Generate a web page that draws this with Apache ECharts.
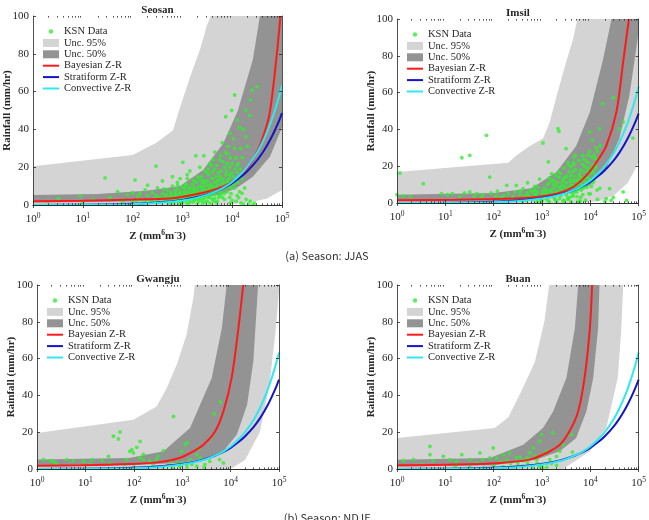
<!DOCTYPE html>
<html>
<head>
<meta charset="utf-8">
<title>Bayesian Z-R</title>
<script src="https://cdn.jsdelivr.net/npm/echarts@6.0.0/dist/echarts.min.js"></script>
<style>
    html, body { margin: 0; padding: 0; background: #fff; }
    #main { width: 649px; height: 520px; }
</style>
</head>
<body>
<div id="main"></div>
<script>
// ---- data ----
var stations = ['Seosan', 'Imsil', 'Gwangju', 'Buan'];
var captions = ['(a) Season: JJAS', '(b) Season: NDJF'];
var xTicks = [1, 10, 100, 1000, 10000, 100000];
var yTicks = [0, 20, 40, 60, 80, 100];

// fixed reference relations, same curve on every panel  [Z, R]
var stratZR = [[1,0.04],[10,0.15],[100,0.65],[300,1.3],[1000,2.7],[2000,4.2],[3000,5.4],[5000,7.5],[7000,9.2],[10000,11.5],
    [15000,14.9],[20000,17.8],[30000,22.9],[40000,27.4],[50000,31.5],[60000,35.3],[70000,38.9],[80000,42.3],[90000,45.5],[100000,48.6]];
var convZR = [[1,0.02],[10,0.09],[100,0.46],[300,1],[1000,2.4],[2000,3.9],[3000,5.2],[5000,7.5],[7000,9.5],[10000,12.2],
    [15000,16.4],[20000,20.1],[30000,26.8],[40000,32.9],[50000,38.6],[60000,44],[70000,49.1],[80000,54],[90000,58.7],[100000,63.3]];

// Seosan
var seosanBayes = [[1,2],[10,2.3],[100,2.9],[560,3.5],[1230,4.8],[3100,7],[7800,10.6],[15500,16],[26000,24],[39000,34],[56000,48],[76000,76],[93000,100]];
var seosanHi95 = [[1,20.5],[100,26.5],[300,33],[650,39.5],[830,49],[1400,67],[2300,83],[3100,95],[3700,100],[100000,100]];
var seosanHi50 = [[1,5.3],[20,5.8],[190,7.6],[900,10],[2600,18.5],[6600,32.5],[13000,50],[26000,77],[36000,100],[100000,100]];
var seosanLo50 = [[1,1.3],[100,1.8],[1000,3],[5700,5.3],[12300,9],[26000,15],[57500,25.6],[100000,41]];
var seosanLo95 = [[1,0],[5000,0],[20000,1],[50000,3.5],[100000,8]];
var seosanKsn = [[3.2,3.5],[8.9,4.8],[16,3],[28,14.3],[35,4],[50,7],[63,3],[79,5.5],[100,2],[112,13.2],[126,4.5],[141,6],[158,3],[178,8],
    [200,5],[224,2],[251,6.5],[282,3.5],[295,20.6],[316,9],[355,4],[398,12.7],[398,6],[447,2.5],[501,8],[562,4],[631,15],[631,10],[708,6],
    [794,2.5],[794,12],[891,7],[1000,4],[1020,22.6],[1120,9],[1260,14],[1260,5.5],[1410,18],[1410,2],[1580,11],[1580,7],[1780,4],[1860,26],
    [2000,15],[2000,9],[2240,20],[2240,5.5],[2510,12],[2510,2.5],[2690,26],[2820,8],[3160,17],[3160,10.5],[3550,22],[3550,4],[3980,14],[3980,7],
    [4470,28],[4470,19],[5010,11],[5010,2],[5620,24],[5620,15],[6310,33],[6310,9],[7080,20],[7410,46.7],[7940,27],[7940,13],[8910,38],[8910,4],
    [9770,50.1],[10000,22],[10000,2.3],[11200,58.2],[11200,30],[12600,17],[13500,3.9],[14100,41],[15800,6.2],[15800,25],[18600,50.3],[18600,36],
    [20000,31],[21400,0.5],[22400,47.3],[23400,55.6],[25100,60.8],[31600,62.6],[28200,1],
    [355,1.5],[501,3],[562,1],[708,2],[891,3.5],[1000,1.5],[1120,6],[1260,3],[1410,8.5],[1580,4.5],[1780,6.5],[2000,1],[2240,3.5],[2510,7],
    [2820,5],[3160,2],[3160,13],[3550,9],[3980,3],[4470,5.5],[4470,12],[5010,8],[5620,6],[6310,4],[7080,10],[7940,7],[8910,16],[10000,12],
    [11200,9],[12600,5],[12600,21],[15800,14],[17800,9],[2820,18],[3800,21],[5250,17],[4170,24],[6610,23],[8320,31],[10500,35],[12600,45],
    [14800,30],[16600,40],[63,1.5],[158,1],[251,1.5],[10,1.5],[2,2],[100,6.5],[200,10.5],[316,2.5],
    [650,3],[720,7.5],[760,4.5],[850,1.2],[950,5],[1100,2.5],[1150,11],[1300,7],[1350,1],[1500,5],[1650,9.5],[1700,2.5],[1900,12],[1950,6],
    [2100,3],[2300,10],[2400,15],[2600,4.5],[2700,10],[2900,1.5],[3000,6.5],[3300,8],[3400,16],[3700,5],[3700,11],[4200,8.5],[4300,2],
    [4700,15],[4800,9.5],[5300,4],[5500,13],[6000,7],[6000,18],[6700,12],[7000,3],[7500,16],[8500,10],[9000,20],[9500,6],[10500,15],
    [11800,25],[13000,12],[14500,19],[2200,13.5],[1250,16],[900,14],[800,10.5],[600,5.5],[450,4.5],[420,8.5],
    [420,2],[480,5.5],[520,1.5],[580,6.5],[610,3.5],[680,1],[740,5],[780,8.5],[820,3],[870,6],[930,1],[980,9.5],[1050,3],[1080,7],[1180,4],
    [1220,1],[1320,5],[1380,9],[1450,3.5],[1550,6],[1620,1.5],[1720,8],[1820,3],[1880,5],[2050,7],[2150,2],[2350,6],[2450,9],[2550,1],
    [2750,3.5],[2850,12],[3050,7.5],[3250,4],[3450,6],[3600,1],[3850,7],[4050,10],[4400,3.5],[4600,7],[4900,1.2],[5100,13],[5400,8.5],
    [5800,5],[6200,11],[6500,14],[6900,6],[7300,9],[7700,18],[8200,12],[8700,14],[9300,9],[9800,17],[10800,11],[11500,19],[12200,14],
    [13500,22],[3300,19],[4000,17.5],[4900,21],[5900,26],[7200,28],[8000,22],[9200,25],[1700,13],[1200,10.5],[2600,13],[15000,1],[17000,0.5],
    [12000,2],[9000,1],[19000,3],[14000,7],[23000,2],[26000,0.3],[300,5],[250,3],[180,1.5],[120,2.5]];

// Imsil
var imsilBayes = [[1,1.5],[17,1.8],[410,2.7],[2000,5.1],[4400,8.7],[8300,15],[13500,22.3],[21400,31],[34700,49.5],[48000,77],[63000,100]];
var imsilHi95 = [[1,16.8],[200,21.9],[300,26],[560,31],[1050,35],[1450,44],[2000,58],[3200,77],[4400,89],[5400,100],[100000,100]];
var imsilHi50 = [[1,4.5],[100,5.5],[600,8],[2000,16.8],[5100,31],[9800,49.5],[18000,77],[27500,100],[100000,100]];
var imsilLo50 = [[1,0.9],[100,1.3],[1000,2.5],[3700,5.1],[9800,9.6],[21400,18.7],[40000,35],[64600,58.5],[100000,93]];
var imsilLo95 = [[1,0],[5000,0],[15000,1],[30000,4],[60000,11],[100000,22]];
var imsilKsn = [[1,4.5],[1.15,16.3],[1.35,3.8],[1.9,3.3],[3.5,10.5],[8.3,5.1],[11,4.5],[14,5.1],[20,3.5],[22,24.6],[32,25.9],[32,6],[45,5.1],
    [56,3],[71,36.8],[83,14.1],[89,5.5],[112,4],[141,3],[186,9.6],[200,5],[251,3.5],[295,9.6],[316,2],[355,6.5],[407,7.8],[447,4],[501,11],
    [562,2.5],[631,6],[708,9],[794,3.5],[891,13],[1000,5],[1050,32.6],[1120,8],[1260,2],[1350,22.3],[1410,11],[1580,6],[1580,16],[1780,3],
    [2000,9],[2140,40.4],[2240,14],[2240,39],[2510,5],[2820,19],[3160,29.5],[3160,11],[3550,2.5],[3550,7],[3980,15],[4070,19.6],[4470,22],
    [4470,4],[5010,9],[5010,26],[5620,13],[6310,18],[6310,3],[7080,24],[7080,8],[7940,14],[8910,26],[9770,38.6],[10000,19],[10000,5],
    [11200,11],[12600,24],[14100,2],[15500,40.4],[15800,8],[18200,54],[21400,2.4],[25100,7.8],[30200,57.2],[39800,40.4],[47900,44],[47900,6],
    [56200,1.4],[75900,35.3],[398,1],[794,0.8],[1000,1.5],[1410,0.5],[2000,1],[2820,1.5],[3980,0.8],[5620,1],[7940,1.5],[708,4.5],[1120,3],
    [1780,12],[2510,8],[3160,4.5],[4470,12],[6310,10.5],[8910,17],[11200,21],[3550,17],[5250,6],[7590,20],[2820,13],[1260,7],[501,5.5],
    [251,2],[158,1.5],[2240,6.5],[3980,9.5],[8320,11],[12600,15],[9550,28],[13200,30],
    [900,2.5],[1150,5.5],[1300,10],[1500,3.5],[1700,8],[1900,4.5],[2100,11],[2300,2.5],[2600,10],[2700,6],[3000,14],[3300,7.5],[3400,2],
    [3800,11.5],[4200,5.5],[4300,17],[4800,14.5],[5300,3.5],[5500,10],[6000,15],[6500,7],[6800,21],[7500,12],[8500,8.5],[9000,22],[9500,13],
    [10500,9],[11500,17],[12000,26],[13000,19],[14000,24],[600,3],[700,7],[1600,12.5],[2400,16],[3600,20.5],[4600,25],[800,6],
    [450,1.5],[520,4],[580,7],[650,2],[740,4.5],[830,8.5],[950,1],[1050,6.5],[1180,3.5],[1280,5],[1380,1],[1480,7],[1620,4.5],[1750,10],
    [1850,2],[1950,6],[2150,5],[2350,8.5],[2450,4],[2650,12],[2750,1],[2950,9],[3100,5.5],[3250,14.5],[3450,3],[3700,8.5],[3900,13],
    [4100,3.5],[4400,9.5],[4700,6],[4900,18],[5200,12],[5700,7.5],[5900,16],[6200,1],[6600,13.5],[7000,4.5],[7300,17],[7800,9],[8100,23],
    [8800,14],[9300,5],[10200,16],[10800,25],[11800,12],[12800,20],[13800,7],[2200,17],[3400,22],[4600,21],[5800,23],[6900,26],[8600,19],
    [1400,13.5],[1900,15],[350,4.5],[280,6],[160,4],[120,6.5],[60,4.5],[40,3.5],[25,5.5],[14000,28],[16000,31],[11000,34],[20000,1],
    [30000,3],[27000,1.5]];

// Gwangju
var gwangjuBayes = [[1,1.8],[8,2],[83,2.7],[300,3.6],[890,6],[1700,9.6],[2750,13.2],[4800,20.5],[7100,31.3],[10500,49.5],[14500,76.6],[18200,100]];
var gwangjuHi95 = [[1,19.6],[98,26.8],[295,34],[480,44],[780,57],[1230,73],[1700,93],[1820,100],[100000,100]];
var gwangjuHi50 = [[1,5.1],[80,6],[410,9.6],[1450,22.3],[4070,49.5],[6600,76.6],[8300,100],[100000,100]];
var gwangjuLo50 = [[1,1.4],[83,2],[890,3.3],[3240,6],[7080,9.6],[13500,18.7],[22000,35],[29500,58.5],[37000,100],[100000,100]];
var gwangjuLo95 = [[1,0],[10000,0],[20000,5],[40000,20],[63000,45],[85000,75],[100000,97]];
var gwangjuKsn = [[1.35,5.1],[1.9,4.5],[2.2,4],[4.1,5.1],[5.6,4.5],[9.1,4.2],[14,5.1],[22,4.5],[30,6.9],[38,17.8],[48,16.3],[52,20.1],[71,5.1],
    [83,9.6],[91,10.5],[98,8.7],[115,11.8],[135,15],[135,6],[158,5.1],[214,4.2],[295,5.1],[407,10],[562,4.2],[661,28.6],[776,3.3],[977,9.6],
    [1150,13.2],[1230,2.4],[1450,5.1],[2000,7.8],[2340,6],[2950,2.4],[3720,4.2],[4570,30],[5890,5.1],[6170,36.4],[7080,3.3],
    [100,1],[200,0.8],[398,1.2],[631,0.5],[891,1.5],[1260,0.8],[2000,1.5],[2820,1],[63,2.5],[251,2.8],[501,2],[1000,3.5],[1580,2.5],
    [32,3],[12.6,2.8],[2.5,3],[2240,11],[1260,14.5],[158,8],[316,7]];

// Buan
var buanBayes = [[1,2],[17,2.4],[135,3.3],[560,5.1],[1230,8.7],[2340,13.2],[3700,20.5],[5600,31.3],[7600,49.5],[9800,76.6],[10900,100]];
var buanHi95 = [[1,16.8],[105,22.3],[200,28],[355,41],[710,58],[1120,80],[1410,100],[100000,100]];
var buanHi50 = [[1,5],[83,6],[410,13.2],[1050,22.3],[1700,31.3],[3200,49.5],[4800,76.6],[5600,100],[100000,100]];
var buanLo50 = [[1,1.4],[100,2],[770,5.1],[2340,9.6],[5100,16.8],[8300,31.3],[11500,49.5],[14500,76.6],[15500,100],[100000,100]];
var buanLo95 = [[1,0],[2750,0],[9800,9.6],[21400,22.3],[37000,49.5],[43600,75],[48000,100],[100000,100]];
var buanKsn = [[1.35,4.5],[2.2,5.1],[4.8,12.3],[4.8,7.8],[5.6,4.5],[9.1,6.9],[12.6,5.1],[17,4.2],[22,7.8],[32,5.1],[52,8.7],[60,5.1],
    [83,6],[98,11.4],[115,6],[158,7.8],[186,5.1],[214,8.7],[295,6],[407,4.5],[562,8.7],[661,11.4],[776,5.1],[891,15],[977,18.7],[1050,7.8],
    [1230,9.6],[1450,5.1],[1700,19.6],[2000,6.9],[2340,9.6],[2750,13.2],[4070,18.7],[4270,9.2],[1050,0.5],[891,1.4],
    [32,1],[63,0.8],[100,2],[158,1.2],[251,0.5],[398,1.5],[631,0.8],[1000,2.5],[1260,1],[16,1.5],[3.2,2.5],[316,3],[501,3.5],[794,3],
    [1580,3],[2000,2],[141,4],[45,3.5],[224,3],[355,6.5],[501,6],[708,7]];

// ---- layout / style ----
var boxes = [
    {left: 33, top: 16, width: 249, height: 189},
    {left: 397, top: 19, width: 242, height: 184},
    {left: 37, top: 285, width: 242, height: 184},
    {left: 397, top: 285, width: 242, height: 184}
];
var panels = [
    {bayes: seosanBayes, hi95: seosanHi95, hi50: seosanHi50, lo50: seosanLo50, lo95: seosanLo95, ksn: seosanKsn},
    {bayes: imsilBayes, hi95: imsilHi95, hi50: imsilHi50, lo50: imsilLo50, lo95: imsilLo95, ksn: imsilKsn},
    {bayes: gwangjuBayes, hi95: gwangjuHi95, hi50: gwangjuHi50, lo50: gwangjuLo50, lo95: gwangjuLo95, ksn: gwangjuKsn},
    {bayes: buanBayes, hi95: buanHi95, hi50: buanHi50, lo50: buanLo50, lo95: buanLo95, ksn: buanKsn}
];

// matlab style minor ticks 2..9 inside each decade
var minorTicks = [];
for (var d = 0; d < xTicks.length - 1; d++) {
    for (var m = 2; m <= 9; m++) minorTicks.push(xTicks[d] * m);
}

var serif = '"Liberation Serif", "Times New Roman", serif';
var ink = '#262626';
var light = '#d4d4d4', dark = '#939393';
var red = '#ff1a1a', blue = '#1414c8', cyan = '#30e8ee', green = '#33ee33';

// legend icons: small dot, flat bar for lines
var dotIcon = 'path://M0,0L0.01,0M16,8L16.01,8M5.8,4A2.2,2.2,0,1,0,10.2,4A2.2,2.2,0,1,0,5.8,4Z';
var lineIcon = 'path://M0,3L16,3L16,5L0,5Z';

function expLabel(v) {
    return '{b|10}{s|' + Math.round(Math.log10(v)) + '}';
}

// area under a band edge; drawn in order light/dark/light/white
function band(name, data, color, z, i) {
    return {
        name: name, type: 'line', xAxisIndex: i * 4, yAxisIndex: i * 2,
        data: data, symbol: 'none', z: z, color: color, silent: true,
        lineStyle: {width: 0},
        areaStyle: {color: color, opacity: 1, origin: 'start'}
    };
}

function curve(name, data, color, i) {
    return {
        name: name, type: 'line', xAxisIndex: i * 4, yAxisIndex: i * 2,
        data: data, symbol: 'none', smooth: 0.3, z: 6, color: color, silent: true,
        lineStyle: {width: 2, color: color}
    };
}

var axisLineStyle = {color: ink, width: 0.8};

// plain frame axis: no labels, inward ticks
function frameX(i, pos, ticks, len, showLine) {
    return {
        type: 'log', logBase: 10, gridIndex: i, position: pos, min: xTicks[0], max: xTicks[xTicks.length - 1], z: 10,
        axisLine: {show: showLine, lineStyle: axisLineStyle},
        axisTick: {show: true, inside: true, length: len, customValues: ticks, lineStyle: axisLineStyle},
        axisLabel: {show: false}, splitLine: {show: false}
    };
}

var option = {
    animation: false,
    backgroundColor: '#fff',
    grid: [], xAxis: [], yAxis: [], series: [], legend: [], title: [],
    graphic: []
};

for (var i = 0; i < panels.length; i++) {
    var b = boxes[i], p = panels[i];
    option.grid.push({left: b.left, top: b.top, width: b.width, height: b.height, containLabel: false});

    // bottom axis with labels, then top frame and minor ticks both sides
    option.xAxis.push({
        type: 'log', logBase: 10, gridIndex: i, position: 'bottom', min: xTicks[0], max: xTicks[xTicks.length - 1], z: 10,
        name: 'Z (mm{s|6}m{s|-}3)', nameLocation: 'middle', nameGap: 24, nameMoveOverlap: false,
        nameTextStyle: {fontFamily: serif, fontWeight: 'bold', fontSize: 11, color: ink,
            rich: {s: {fontFamily: serif, fontWeight: 'bold', fontSize: 7.5, color: ink, padding: [0, 0, 6, 0]}}},
        axisLine: {show: true, lineStyle: axisLineStyle},
        axisTick: {show: true, inside: true, length: 3, customValues: xTicks, lineStyle: axisLineStyle},
        axisLabel: {margin: 7, customValues: xTicks, formatter: expLabel, rich: {
            b: {fontFamily: serif, fontSize: 11, color: ink},
            s: {fontFamily: serif, fontSize: 7.5, color: ink, padding: [0, 0, 6, 0]}
        }},
        splitLine: {show: false}
    });
    option.xAxis.push(frameX(i, 'top', xTicks, 3, true));
    option.xAxis.push(frameX(i, 'bottom', minorTicks, 1.6, false));
    option.xAxis.push(frameX(i, 'top', minorTicks, 1.6, false));

    // left / right y axes
    option.yAxis.push({
        type: 'value', gridIndex: i, min: yTicks[0], max: yTicks[yTicks.length - 1], interval: yTicks[1] - yTicks[0], z: 10,
        name: 'Rainfall (mm/hr)', nameLocation: 'middle', nameGap: 20, nameMoveOverlap: false,
        nameTextStyle: {fontFamily: serif, fontWeight: 'bold', fontSize: 11, color: ink},
        axisLine: {show: true, lineStyle: axisLineStyle},
        axisTick: {show: true, inside: true, length: 3, lineStyle: axisLineStyle},
        axisLabel: {margin: 4, fontFamily: serif, fontSize: 11, color: ink},
        splitLine: {show: false}
    });
    option.yAxis.push({
        type: 'value', gridIndex: i, position: 'right', min: yTicks[0], max: yTicks[yTicks.length - 1], interval: yTicks[1] - yTicks[0], z: 10,
        axisLine: {show: true, lineStyle: axisLineStyle},
        axisTick: {show: true, inside: true, length: 3, lineStyle: axisLineStyle},
        axisLabel: {show: false}, splitLine: {show: false}
    });

    option.series.push(band('Unc. 95%', p.hi95, light, 1, i));
    option.series.push(band('Unc. 50%', p.hi50, dark, 2, i));
    option.series.push(band('lo50', p.lo50, light, 3, i));
    option.series.push(band('lo95', p.lo95, '#ffffff', 4, i));
    option.series.push({
        name: 'KSN Data', type: 'scatter', xAxisIndex: i * 4, yAxisIndex: i * 2, data: p.ksn,
        symbol: 'circle', symbolSize: 3.8, z: 5, silent: true, itemStyle: {color: green}
    });
    option.series.push(curve('Bayesian Z-R', p.bayes, red, i));
    option.series.push(curve('Stratiform Z-R', stratZR, blue, i));
    option.series.push(curve('Convective Z-R', convZR, cyan, i));

    option.legend.push({
        orient: 'vertical', left: b.left + 10, top: b.top + 10, z: 20, padding: 0,
        itemWidth: 16, itemHeight: 8, itemGap: 0.4, selectedMode: false,
        itemStyle: {borderWidth: 0},
        textStyle: {fontFamily: serif, fontSize: 10.5, color: ink, lineHeight: 10},
        data: [
            {name: 'KSN Data', icon: dotIcon},
            {name: 'Unc. 95%', icon: 'rect'},
            {name: 'Unc. 50%', icon: 'rect'},
            {name: 'Bayesian Z-R', icon: lineIcon},
            {name: 'Stratiform Z-R', icon: lineIcon},
            {name: 'Convective Z-R', icon: lineIcon}
        ]
    });

    option.title.push({
        text: stations[i], left: b.left + b.width / 2, top: b.top - 11, textAlign: 'center', padding: 0,
        textStyle: {fontFamily: serif, fontWeight: 'bold', fontSize: 11, color: ink}
    });
}

// season captions under each row
option.graphic.push({type: 'text', x: 327, y: 256, z: 30,
    style: {text: captions[0], align: 'center', verticalAlign: 'middle', fontFamily: '"Noto Sans CJK KR", sans-serif', fontSize: 11, fill: '#333'}});
option.graphic.push({type: 'text', x: 327, y: 518, z: 30,
    style: {text: captions[1], align: 'center', verticalAlign: 'middle', fontFamily: '"Noto Sans CJK KR", sans-serif', fontSize: 11, fill: '#333'}});

var myChart = echarts.init(document.getElementById('main'), null, {renderer: 'canvas'});
myChart.setOption(option);
</script>
</body>
</html>
